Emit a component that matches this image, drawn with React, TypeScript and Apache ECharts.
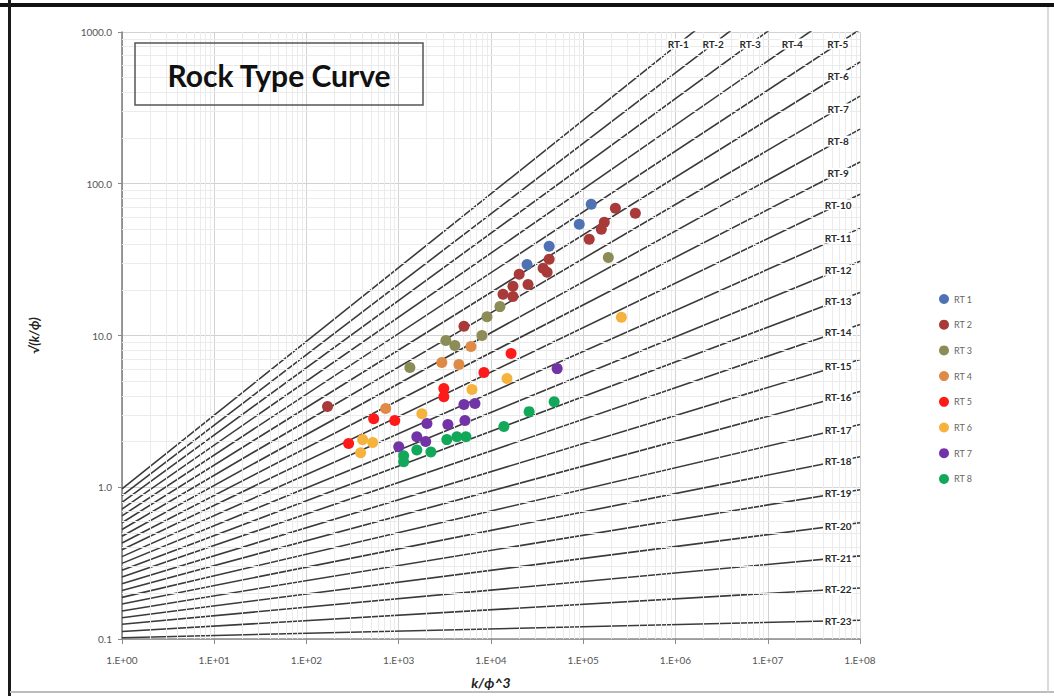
import React, { useEffect, useRef } from "react";
import * as echarts from "echarts";

// ---- data ----
const rockTypes = ["RT 1", "RT 2", "RT 3", "RT 4", "RT 5", "RT 6", "RT 7", "RT 8"];
const rockColors = ["#4f72b4", "#a83a3a", "#8c8c56", "#df8a45", "#ff1a1a", "#f5b33e", "#7233a6", "#12a85a"];

const rt1 = [[1.22e5, 73.2], [9.05e4, 54.0], [4.27e4, 38.7], [2.46e4, 29.4]];
const rt2 = [
  [2.23e5, 68.9], [3.67e5, 63.9], [1.69e5, 55.7], [1.57e5, 50.1], [1.16e5, 43.1],
  [4.27e4, 31.8], [3.67e4, 27.7], [4.06e4, 26.1], [2.02e4, 25.3], [2.52e4, 21.7],
  [1.73e4, 21.1], [1.35e4, 18.7], [1.73e4, 18.1], [5.09e3, 11.5], [169, 3.4],
];
const rt3 = [[1.87e5, 32.7], [1.25e4, 15.5], [9.05e3, 13.3], [7.98e3, 10.0], [3.24e3, 9.27], [4.06e3, 8.59], [1.32e3, 6.15]];
const rt4 = [[6.06e3, 8.45], [2.93e3, 6.64], [4.49e3, 6.44], [722, 3.3]];
const rt5 = [[1.65e4, 7.6], [8.39e3, 5.7], [3.08e3, 4.47], [3.08e3, 3.95], [535, 2.83], [905, 2.75], [286, 1.94]];
const rt6 = [[2.59e5, 13.2], [1.49e4, 5.2], [6.22e3, 4.4], [1.78e3, 3.05], [406, 2.06], [522, 1.97], [386, 1.69]];
const rt7 = [[5.21e4, 6.05], [6.7e3, 3.56], [5.09e3, 3.51], [5.22e3, 2.75], [3.41e3, 2.59], [2.02e3, 2.63], [1.57e3, 2.15], [1.96e3, 2.0], [1.0e3, 1.85]];
const rt8 = [[4.84e4, 3.66], [2.59e4, 3.15], [1.38e4, 2.51], [5.35e3, 2.15], [4.27e3, 2.15], [3.32e3, 2.06], [2.23e3, 1.71], [1.57e3, 1.76], [1.13e3, 1.61], [1.13e3, 1.47]];
const rockData = [rt1, rt2, rt3, rt4, rt5, rt6, rt7, rt8];

const curveNames = [
  "RT-1", "RT-2", "RT-3", "RT-4", "RT-5", "RT-6", "RT-7", "RT-8", "RT-9", "RT-10", "RT-11", "RT-12",
  "RT-13", "RT-14", "RT-15", "RT-16", "RT-17", "RT-18", "RT-19", "RT-20", "RT-21", "RT-22", "RT-23",
];
// value of each curve at x = 1 and at x = 1E+08
const curveStartY = [0.977, 0.881, 0.796, 0.718, 0.648, 0.584, 0.527, 0.475, 0.429, 0.387, 0.349, 0.315, 0.284, 0.256, 0.231, 0.209, 0.188, 0.17, 0.153, 0.138, 0.125, 0.112, 0.102];
const curveEndY = [7550, 4570, 2810, 1700, 1040, 634, 378, 229, 139, 85.3, 50.8, 30.8, 19.2, 11.8, 6.95, 4.27, 2.59, 1.59, 0.962, 0.583, 0.353, 0.217, 0.133];

const xMin = 1;
const xMax = 1e8;
const yMin = 0.1;
const yMax = 1000;
const xDecades = [0, 1, 2, 3, 4, 5, 6, 7];
const yDecades = [-1, 0, 1, 2];
const minorSteps = [2, 3, 4, 5, 6, 7, 8, 9];
const topLabelY = 833; // curve labels that run out at the top
const sideLabelX = 5.8e7; // curve labels at the right side
const topLabelCount = 5;

const FONT = "Lato, 'Liberation Sans', sans-serif";

function labelPoints() {
  const span = Math.log10(xMax) - Math.log10(xMin);
  return curveNames.map((name, i) => {
    const l0 = Math.log10(curveStartY[i]);
    const slope = (Math.log10(curveEndY[i]) - l0) / span;
    if (i < topLabelCount) {
      const lx = (Math.log10(topLabelY) - l0) / slope;
      return { name, value: [Math.pow(10, lx), topLabelY] };
    }
    const ly = l0 + slope * Math.log10(sideLabelX);
    return { name, value: [sideLabelX, Math.pow(10, ly)] };
  });
}

const baseGraphic: any[] = [
  { type: "rect", shape: { x: 0, y: 3, width: 1054, height: 4 }, style: { fill: "#111" }, silent: true, z: 20 },
  { type: "rect", shape: { x: 8, y: 0, width: 3, height: 696 }, style: { fill: "#1a1a1a" }, silent: true, z: 20 },
  { type: "line", shape: { x1: 10, y1: 692, x2: 1054, y2: 692 }, style: { stroke: "#bdbdbd", lineWidth: 2 }, silent: true, z: 20 },
  { type: "line", shape: { x1: 1048, y1: 7, x2: 1048, y2: 692 }, style: { stroke: "#cfcfcf", lineWidth: 1.5 }, silent: true, z: 20 },
  {
    type: "rect",
    shape: { x: 135, y: 43, width: 288, height: 62 },
    style: { fill: "rgba(255,255,255,0)", stroke: "#555", lineWidth: 1.5 },
    z: 10,
    silent: true,
  },
  {
    type: "text",
    x: 279,
    y: 75,
    z: 11,
    silent: true,
    style: {
      text: "Rock Type Curve",
      font: "bold 30px " + FONT,
      fill: "#111",
      align: "center",
      verticalAlign: "middle",
    },
  },
];

function buildOption() {
  const minorX: any[] = [];
  xDecades.forEach((d) => minorSteps.forEach((m) => minorX.push({ xAxis: m * Math.pow(10, d) })));
  const minorY: any[] = [];
  yDecades.forEach((d) => minorSteps.forEach((m) => minorY.push({ yAxis: m * Math.pow(10, d) })));

  const curveSeries = curveNames.map((name, i) => ({
    type: "line",
    name,
    data: [[xMin, curveStartY[i]], [xMax, curveEndY[i]]],
    symbol: "none",
    silent: true,
    clip: true,
    z: 2,
    lineStyle: { color: "#3a3a3a", width: 1.6 },
  }));

  const pointSeries = rockTypes.map((name, i) => ({
    type: "scatter",
    name,
    data: rockData[i],
    symbol: "circle",
    symbolSize: 11,
    z: 5,
    itemStyle: { color: rockColors[i], opacity: 1 },
  }));

  return {
    animation: false,
    backgroundColor: "#ffffff",
    textStyle: { fontFamily: FONT },
    grid: { left: 122, right: 194, top: 32, bottom: 57, containLabel: false },
    legend: {
      data: rockTypes.map((n) => ({ name: n, icon: "circle" })),
      orient: "vertical",
      left: 934,
      top: 289,
      itemWidth: 10,
      itemHeight: 10,
      itemGap: 15.7,
      textStyle: { fontSize: 9, color: "#666", fontFamily: FONT },
      selectedMode: false,
    },
    xAxis: {
      type: "log",
      logBase: 10,
      min: xMin,
      max: xMax,
      splitNumber: 8,
      name: "k/ϕ^3",
      nameLocation: "middle",
      nameGap: 36,
      nameTextStyle: { fontSize: 14, fontWeight: "bold", fontStyle: "italic", color: "#222", fontFamily: FONT },
      axisLine: { show: true, lineStyle: { color: "#8a8a8a", width: 1.5 } },
      axisTick: { show: true, length: 5, lineStyle: { color: "#8a8a8a" } },
      axisLabel: {
        margin: 16,
        fontSize: 10,
        color: "#555",
        fontFamily: FONT,
        formatter: (v: number) => "1.E+" + String(Math.round(Math.log10(v))).padStart(2, "0"),
      },
      splitLine: { show: true, lineStyle: { color: "#d2d2d2", width: 1 } },
    },
    yAxis: {
      type: "log",
      logBase: 10,
      min: yMin,
      max: yMax,
      splitNumber: 4,
      name: "√(k/ϕ)",
      nameLocation: "middle",
      nameRotate: 90,
      nameGap: 82,
      nameTextStyle: { fontSize: 13, fontWeight: "bold", fontStyle: "italic", color: "#222", fontFamily: FONT },
      axisLine: { show: true, lineStyle: { color: "#7a7a7a", width: 1.5 } },
      axisTick: { show: true, length: 4, lineStyle: { color: "#8a8a8a" } },
      axisLabel: {
        margin: 10,
        fontSize: 10,
        color: "#555",
        fontFamily: FONT,
        formatter: (v: number) => v.toFixed(1),
      },
      splitLine: { show: true, lineStyle: { color: "#d2d2d2", width: 1 } },
    },
    graphic: baseGraphic,
    series: [
      {
        type: "line",
        name: "minor-grid",
        data: [[xMin, yMin]],
        symbol: "none",
        lineStyle: { width: 0 },
        silent: true,
        z: 1,
        markLine: {
          silent: true,
          symbol: ["none", "none"],
          label: { show: false },
          lineStyle: { color: "#ebebeb", width: 1, type: "solid" },
          emphasis: { disabled: true },
          data: [...minorX, ...minorY],
        },
      },
      ...curveSeries,
      ...pointSeries,
    ],
  };
}

export default function App() {
  const ref = useRef<HTMLDivElement>(null);
  useEffect(() => {
    if (!ref.current) return;
    const chart = echarts.init(ref.current, null, { renderer: "svg" });
    chart.setOption(buildOption() as any);
    // curve labels placed on each curve through the chart's own scales
    const labels = labelPoints().map((p) => {
      const px = chart.convertToPixel({ xAxisIndex: 0, yAxisIndex: 0 }, p.value) as number[];
      return {
        type: "text",
        x: px[0],
        y: px[1],
        z: 8,
        silent: true,
        style: {
          text: p.name,
          font: "bold 10px " + FONT,
          fill: "#2a2a2a",
          align: "center",
          verticalAlign: "middle",
          backgroundColor: "#ffffff",
          padding: [1, 1, 0, 1],
        },
      };
    });
    chart.setOption({ graphic: [...baseGraphic, ...labels] } as any);
    return () => chart.dispose();
  }, []);
  return (
    <div
      ref={ref}
      style={{ position: "fixed", left: 0, top: 0, width: 1054, height: 696, background: "#fff" }}
    />
  );
}
